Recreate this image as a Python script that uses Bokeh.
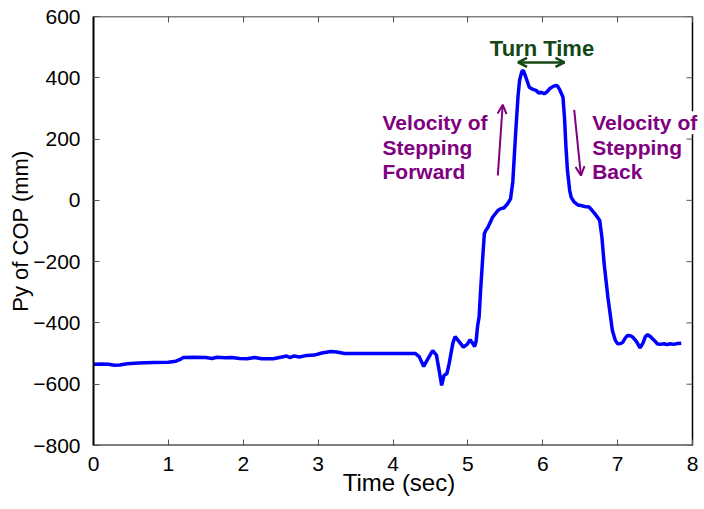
from bokeh.plotting import figure
from bokeh.models import Range1d, LinearAxis, Arrow, OpenHead, FixedTicker, Label
from bokeh.core.properties import value
from bokeh.embed import file_html
from bokeh.resources import INLINE

# ---- data ----
time_sec = [0.00, 0.10, 0.20, 0.28, 0.35, 0.45, 0.60, 0.80, 1.00, 1.10, 1.15, 1.20,
            1.35, 1.50, 1.58, 1.65, 1.75, 1.85, 1.95, 2.05, 2.15, 2.25, 2.40, 2.50,
            2.58, 2.62, 2.68, 2.75, 2.85, 2.95, 3.05, 3.17, 3.25, 3.35, 3.60, 4.00,
            4.30, 4.35, 4.41, 4.46, 4.53, 4.58, 4.62, 4.65, 4.68, 4.72, 4.75, 4.80,
            4.83, 4.88, 4.94, 4.99, 5.03, 5.06, 5.09, 5.11, 5.13, 5.15, 5.17, 5.20,
            5.22, 5.24, 5.27, 5.33, 5.40, 5.44, 5.48, 5.53, 5.57, 5.60, 5.64, 5.67,
            5.69, 5.72, 5.74, 5.77, 5.82, 5.87, 5.91, 5.95, 5.98, 6.02, 6.06, 6.09,
            6.14, 6.18, 6.20, 6.22, 6.27, 6.29, 6.31, 6.33, 6.36, 6.38, 6.42, 6.47,
            6.51, 6.56, 6.62, 6.65, 6.70, 6.76, 6.79, 6.82, 6.87, 6.90, 6.93, 6.97,
            7.00, 7.04, 7.07, 7.10, 7.13, 7.17, 7.20, 7.25, 7.30, 7.34, 7.37, 7.40,
            7.44, 7.49, 7.53, 7.56, 7.62, 7.66, 7.70, 7.75, 7.80, 7.85]
py_cop = [-535, -534, -535, -538, -537, -533, -531, -529, -528, -525, -520, -513,
          -512, -513, -516, -512, -514, -513, -516, -517, -513, -517, -517, -512,
          -508, -513, -508, -511, -506, -505, -498, -493, -495, -500, -500, -500,
          -500, -510, -542, -520, -490, -505, -560, -604, -572, -565, -533, -465,
          -445, -460, -479, -470, -455, -465, -477, -460, -410, -380, -294, -180,
          -109, -98, -87, -55, -33, -27, -25, -11, 5, 60, 228, 340,
          391, 420, 424, 405, 369, 362, 359, 350, 353, 348, 355, 364,
          372, 375, 372, 364, 337, 272, 174, 98, 32, 10, -6, -15,
          -17, -20, -22, -30, -45, -65, -120, -207, -316, -370, -425, -457,
          -468, -467, -463, -450, -441, -442, -446, -460, -481, -465, -445, -438,
          -445, -457, -468, -470, -468, -471, -468, -470, -467, -466]

x_ticks = [0, 1, 2, 3, 4, 5, 6, 7, 8]
y_ticks = [-800, -600, -400, -200, 0, 200, 400, 600]

x_label = "Time (sec)"
y_label = "Py of COP (mm)"
turn_label = "Turn Time"
forward_lines = ["Velocity of", "Stepping", "Forward"]
back_lines = ["Velocity of", "Stepping", "Back"]

# ---- styles ----
FONT = "Liberation Sans"
BLUE = "#0000FF"
PURPLE = "#800080"
GREEN = "#134713"

X_MIN, X_MAX = x_ticks[0], x_ticks[-1]
Y_MIN, Y_MAX = y_ticks[0], y_ticks[-1]
# the frame runs to the window edge so the right-hand note can overflow the box;
# the box's right side is drawn at x = X_MAX (12 px from the edge)
FRAME_L, FRAME_R_BOX, WIDTH = 93, 692, 704
x_end = X_MAX * (WIDTH - FRAME_L) / (FRAME_R_BOX - FRAME_L)
px_per_x = (FRAME_R_BOX - FRAME_L) / (X_MAX - X_MIN)
tick_len_x = 6 / px_per_x

p = figure(width=WIDTH, height=509, output_backend="svg", toolbar_location=None,
           x_range=Range1d(X_MIN, x_end), y_range=Range1d(Y_MIN, Y_MAX),
           min_border_left=FRAME_L, min_border_right=0, min_border_top=16,
           min_border_bottom=64)
p.background_fill_color = "white"
p.border_fill_color = "white"
p.outline_line_color = None
p.grid.visible = False

for ax in (p.xaxis[0], p.yaxis[0]):
    ax.major_tick_in = 6
    ax.major_tick_out = 0
    ax.minor_tick_line_color = None
    ax.major_tick_line_color = "#555555"
    ax.axis_line_color = "black"
    ax.axis_line_width = 2
    ax.major_label_text_font = FONT
    ax.major_label_text_font_size = "21px"
    ax.major_label_text_color = "black"
    ax.axis_label_text_font = FONT
    ax.axis_label_text_font_style = "normal"
    ax.axis_label_text_color = "black"

p.xaxis.axis_line_color = None
p.xaxis.ticker = FixedTicker(ticks=x_ticks)
p.yaxis.ticker = FixedTicker(ticks=y_ticks)
p.xaxis.axis_label = x_label
p.yaxis.axis_label = y_label
p.xaxis.axis_label_text_font_size = "24px"
p.yaxis.axis_label_text_font_size = "22px"
p.xaxis.major_label_standoff = 11
p.yaxis.major_label_standoff = 13
p.xaxis.axis_label_standoff = -5
p.yaxis.axis_label_standoff = -3

# mirrored ticks on top (labels not painted)
p.add_layout(LinearAxis(ticker=FixedTicker(ticks=x_ticks), major_tick_in=6, major_tick_out=0,
                        minor_tick_line_color=None, major_label_text_font_size="1px",
                        major_label_text_color=None, major_tick_line_color="#555555",
                        axis_line_color=None, major_label_standoff=0), "above")

# box edges: bottom, top, right, plus right-hand ticks
p.segment(x0=[X_MIN], y0=[Y_MIN], x1=[X_MAX], y1=[Y_MIN], line_color="black", line_width=2)
p.segment(x0=[X_MIN], y0=[Y_MAX], x1=[X_MAX], y1=[Y_MAX], line_color="black", line_width=1.5)
p.segment(x0=[X_MAX], y0=[Y_MIN], x1=[X_MAX], y1=[Y_MAX], line_color="black", line_width=1.5)
p.segment(x0=[X_MAX - tick_len_x] * len(y_ticks), y0=y_ticks,
          x1=[X_MAX] * len(y_ticks), y1=y_ticks, line_color="#555555", line_width=1)

# main curve
p.line(time_sec, py_cop, line_color=BLUE, line_width=3.5)

# Turn time annotation
p.text(x=[5.99], y=[496], text=[turn_label], text_font=value(FONT), text_font_style="bold",
       text_font_size="22px", text_color=GREEN, text_align="center", text_baseline="alphabetic")
p.add_layout(Arrow(x_start=5.67, y_start=450, x_end=6.29, y_end=450,
                   line_color=GREEN, line_width=2.5,
                   start=OpenHead(size=9, line_color=GREEN, line_width=2.5),
                   end=OpenHead(size=9, line_color=GREEN, line_width=2.5)))

# Velocity annotations
note_ys = [253, 173, 93]
p.text(x=[3.86] * 3, y=note_ys, text=forward_lines, text_font=value(FONT),
       text_font_style="bold", text_font_size="21px", text_color=PURPLE,
       text_align="left", text_baseline="alphabetic")
for txt, yy in zip(back_lines, note_ys):
    p.add_layout(Label(x=6.66, y=yy, text=txt, text_font=FONT,
                       text_font_style="bold", text_font_size="21px", text_color=PURPLE,
                       text_align="left", text_baseline="alphabetic",
                       background_fill_color="white"))
p.add_layout(Arrow(x_start=5.40, y_start=81, x_end=5.465, y_end=312,
                   line_color=PURPLE, line_width=2,
                   end=OpenHead(size=9, line_color=PURPLE, line_width=2)))
p.add_layout(Arrow(x_start=6.42, y_start=295, x_end=6.51, y_end=81,
                   line_color=PURPLE, line_width=2,
                   end=OpenHead(size=9, line_color=PURPLE, line_width=2)))

open("out.html", "w").write(file_html(p, INLINE))
